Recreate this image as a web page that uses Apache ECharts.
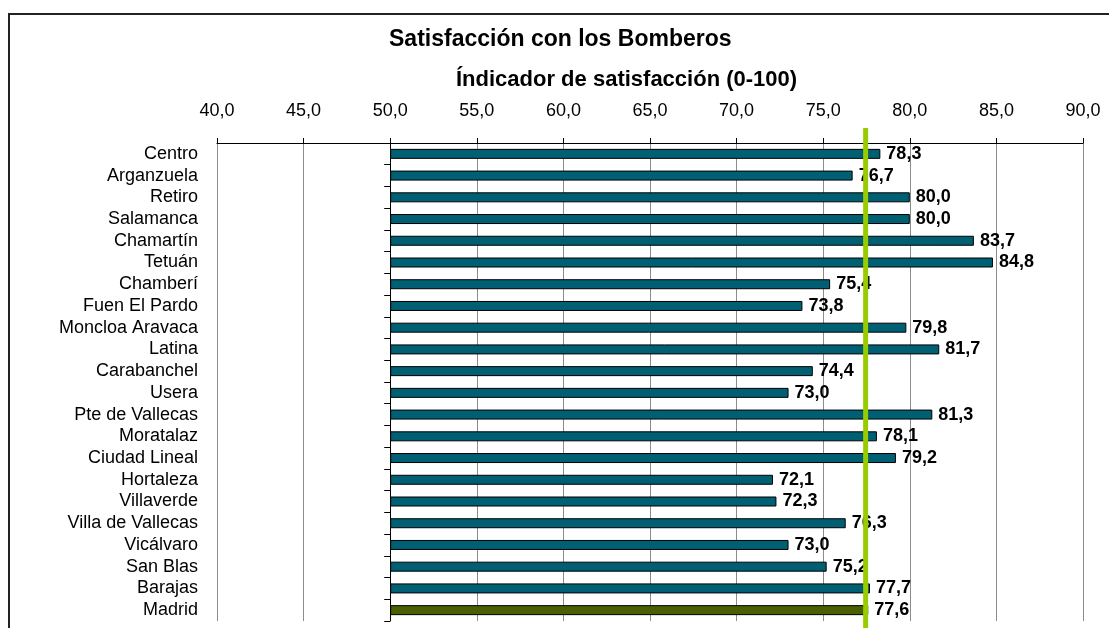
<!DOCTYPE html>
<html>
<head>
<meta charset="utf-8">
<script src="https://cdn.jsdelivr.net/npm/echarts@6/dist/echarts.min.js"></script>
<style>
  html, body { margin: 0; padding: 0; background: #fff; }
  #chart { width: 1109px; height: 628px; }
</style>
</head>
<body>
<div id="chart"></div>
<script>
// distritos y valores del indicador
const districts = [
  "Centro", "Arganzuela", "Retiro", "Salamanca", "Chamartín", "Tetuán",
  "Chamberí", "Fuen El Pardo", "Moncloa Aravaca", "Latina", "Carabanchel",
  "Usera", "Pte de Vallecas", "Moratalaz", "Ciudad Lineal", "Hortaleza",
  "Villaverde", "Villa de Vallecas", "Vicálvaro", "San Blas", "Barajas", "Madrid"
]
const scores = [
  78.3, 76.7, 80.0, 80.0, 83.7, 84.8,
  75.4, 73.8, 79.8, 81.7, 74.4,
  73.0, 81.3, 78.1, 79.2, 72.1,
  72.3, 76.3, 73.0, 75.2, 77.7, 77.6
]
const axisBase = 50
const refLine = 77.45

const FONT = "'Liberation Sans', Arial, sans-serif"
const fmt = v => v.toFixed(1).replace(".", ",")

const chart = echarts.init(document.getElementById("chart"))

const barData = scores.map((v, i) => ({
  value: v - axisBase,
  itemStyle: { color: districts[i] === "Madrid" ? "#4a6000" : "#005f73" }
}))

chart.setOption({
  animation: false,
  title: [
    {
      text: "Satisfacción con los Bomberos",
      left: 384,
      top: 23,
      textStyle: { fontFamily: FONT, fontSize: 23, fontWeight: "bold", color: "#000" }
    },
    {
      text: "Índicador de satisfacción (0-100)",
      left: 451,
      top: 64,
      textStyle: { fontFamily: FONT, fontSize: 22, fontWeight: "bold", color: "#000" }
    }
  ],
  grid: { left: 217, right: 26, top: 143, bottom: 7, containLabel: false },
  xAxis: {
    type: "value",
    position: "top",
    min: 40,
    max: 90,
    interval: 5,
    axisLine: { show: true, lineStyle: { color: "#000", width: 1 } },
    axisTick: { show: true, length: 5, lineStyle: { color: "#000" } },
    axisLabel: {
      margin: 23,
      formatter: v => fmt(v),
      fontFamily: FONT,
      fontSize: 18,
      color: "#000"
    },
    splitLine: { show: true, lineStyle: { color: "#8c8c8c", width: 1 } }
  },
  yAxis: {
    type: "category",
    inverse: true,
    data: districts,
    axisLine: { show: true, lineStyle: { color: "#000", width: 1 } },
    axisTick: { show: true, interval: 0, length: 6, lineStyle: { color: "#000" } },
    axisLabel: { interval: 0, fontFamily: FONT, fontSize: 18, color: "#000", margin: 19 }
  },
  series: [
    {
      name: "base",
      type: "bar",
      stack: "total",
      silent: true,
      itemStyle: { color: "transparent" },
      data: scores.map(() => axisBase)
    },
    {
      name: "valor",
      type: "bar",
      stack: "total",
      barWidth: 10,
      itemStyle: { borderColor: "#000", borderWidth: 1 },
      label: {
        show: true,
        position: "right",
        distance: 6,
        formatter: p => fmt(scores[p.dataIndex]),
        fontFamily: FONT,
        fontSize: 18,
        fontWeight: "bold",
        color: "#000"
      },
      data: barData
    }
  ]
})

// move the category axis onto x = 50 and keep labels where they were
const px50 = chart.convertToPixel({ xAxisIndex: 0 }, axisBase)
const px40 = chart.convertToPixel({ xAxisIndex: 0 }, 40)
const shift = px50 - px40
const greenX = chart.convertToPixel({ xAxisIndex: 0 }, refLine)

chart.setOption({
  yAxis: { offset: -shift, axisLabel: { margin: 19 + shift } },
  graphic: [
    {
      type: "rect",
      z: -10,
      shape: { x: 9, y: 14, width: 1200, height: 700 },
      style: { fill: "none", stroke: "#222", lineWidth: 2 }
    },
    {
      type: "line",
      z: 100,
      shape: { x1: greenX, y1: 128, x2: greenX, y2: 628 },
      style: { stroke: "#99cc00", lineWidth: 5 }
    }
  ]
})

window.addEventListener("resize", () => chart.resize())
</script>
</body>
</html>
